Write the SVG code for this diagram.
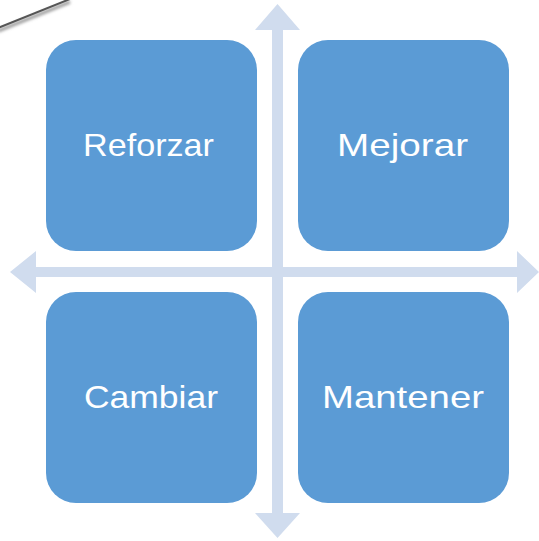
<svg xmlns="http://www.w3.org/2000/svg" width="539" height="541" viewBox="0 0 539 541">
<defs>
<style>
.box{fill:#5B9BD5;}
.lbl{fill:#FFFFFF;font-family:"Liberation Sans","Open Sans",sans-serif;font-size:32px;text-anchor:middle;}
.arr{fill:#D0DCEE;}
</style>
<filter id="sh" x="-20%" y="-50%" width="140%" height="200%"><feGaussianBlur stdDeviation="1.5"/></filter>
</defs>
<g id="deco">
<line x1="-2" y1="31" x2="70" y2="2" stroke="#999" stroke-width="3" filter="url(#sh)"/>
<line x1="-2" y1="28" x2="70" y2="-1" stroke="#555" stroke-width="2"/>
</g>
<g id="connectors">
<polygon class="arr" points="277.5,4 300,30 283,30 283,513 300,513 277.5,538 255,513 272,513 272,30 255,30"/>
<polygon class="arr" points="10,272 36,251 36,267 517,267 517,251 539,272 517,293 517,277 36,277 36,293"/>
</g>
<g id="reforzar"><rect class="box" x="46" y="40" width="211" height="211" rx="30"/><text class="lbl" x="148.5" y="156" textLength="131" lengthAdjust="spacingAndGlyphs">Reforzar</text></g>
<g id="mejorar"><rect class="box" x="298" y="40" width="211" height="211" rx="30"/><text class="lbl" x="402.5" y="156" textLength="131" lengthAdjust="spacingAndGlyphs">Mejorar</text></g>
<g id="cambiar"><rect class="box" x="46" y="292" width="211" height="211" rx="30"/><text class="lbl" x="151" y="408" textLength="134" lengthAdjust="spacingAndGlyphs">Cambiar</text></g>
<g id="mantener"><rect class="box" x="298" y="292" width="211" height="211" rx="30"/><text class="lbl" x="403" y="408" textLength="162" lengthAdjust="spacingAndGlyphs">Mantener</text></g>
</svg>
